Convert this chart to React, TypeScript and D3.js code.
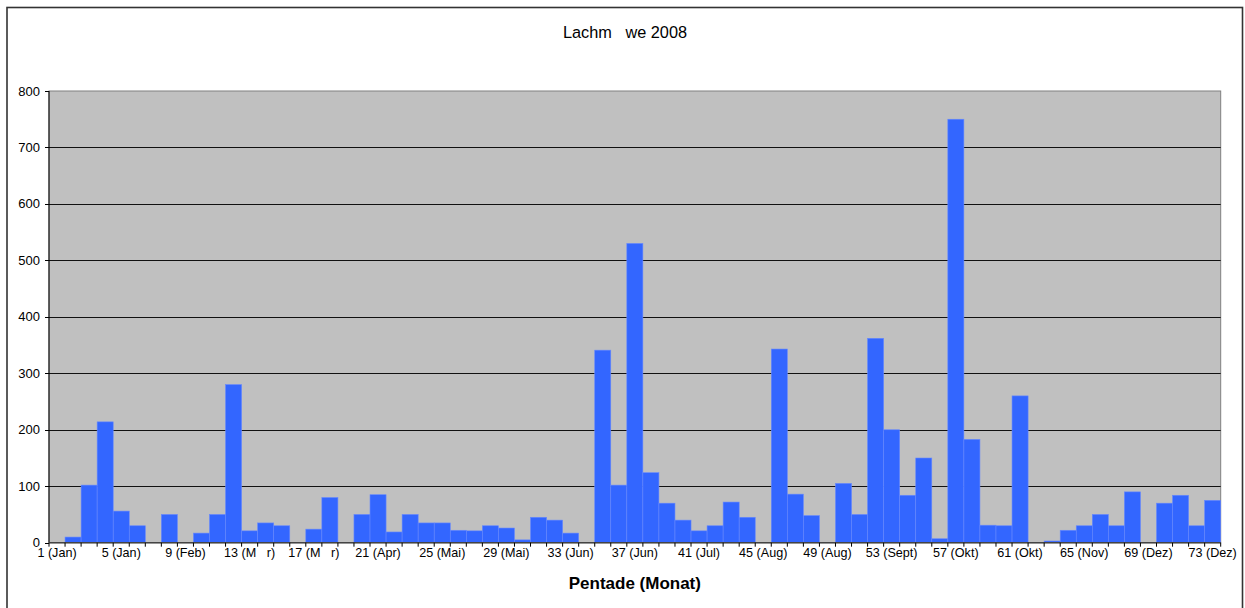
import React from "react";
import * as d3 from "d3";

const pentades: number[] = d3.range(1, 74);
const values: number[] = [
  0, 10, 102, 214, 56, 30, 0, 50, 0, 17,
  50, 280, 21, 35, 30, 0, 24, 80, 0, 50,
  85, 19, 50, 35, 35, 22, 21, 30, 26, 5,
  45, 40, 17, 0, 341, 102, 530, 124, 70, 40,
  21, 30, 72, 45, 0, 343, 86, 48, 0, 105,
  50, 362, 200, 84, 150, 7, 750, 183, 31, 30,
  260, 0, 3, 22, 30, 50, 30, 90, 0, 70,
  84, 30, 75,
];
const tickPentades: number[] = [1, 5, 9, 13, 17, 21, 25, 29, 33, 37, 41, 45, 49, 53, 57, 61, 65, 69, 73];
const tickLabels: string[] = [
  "1 (Jan)", "5 (Jan)", "9 (Feb)", "13 (M   r)", "17 (M   r)", "21 (Apr)", "25 (Mai)",
  "29 (Mai)", "33 (Jun)", "37 (Jun)", "41 (Jul)", "45 (Aug)", "49 (Aug)", "53 (Sept)",
  "57 (Okt)", "61 (Okt)", "65 (Nov)", "69 (Dez)", "73 (Dez)",
];
const yTicks: number[] = [0, 100, 200, 300, 400, 500, 600, 700, 800];
const title = "Lachm   we 2008";
const xTitle = "Pentade (Monat)";

const W = 1245;
const H = 608;
const L = 49;
const R = 1220.7;
const T = 91;
const B = 542.7;
const FONT = "'Liberation Sans', Arial, Helvetica, sans-serif";

export default function App() {
  const x = d3.scaleBand<number>().domain(pentades).range([L, R]).padding(0);
  const y = d3.scaleLinear().domain([0, 800]).range([B, T]);
  const bw = x.bandwidth();
  const boundaries = d3.range(0, pentades.length + 1).map((i) => L + i * bw);

  return (
    <svg
      width={W}
      height={H}
      style={{ position: "absolute", left: 0, top: 0, background: "#fff" }}
      fontFamily={FONT}
    >
      <rect x={7} y={7.5} width={1235.5} height={640} fill="#fff" stroke="#333" strokeWidth={1.6} />
      <text x={625} y={38} textAnchor="middle" fontSize={16.3} fill="#000" style={{ whiteSpace: "pre" }}>
        {title}
      </text>

      <rect x={L} y={T} width={R - L} height={B - T} fill="#C0C0C0" stroke="#808080" strokeWidth={1} />
      {yTicks.slice(1, -1).map((t) => (
        <line key={"g" + t} x1={L} x2={R} y1={Math.round(y(t)) + 0.5} y2={Math.round(y(t)) + 0.5} stroke="#111" strokeWidth={1} />
      ))}

      {pentades.map((p, i) =>
        values[i] > 0 ? (
          <rect
            key={"b" + p}
            x={x(p)!}
            y={y(values[i])}
            width={bw}
            height={B - y(values[i])}
            fill="#3366FF"
            stroke="#6688ff"
            strokeWidth={0.6}
          />
        ) : null
      )}

      {/* y axis */}
      <line x1={L} x2={L} y1={T} y2={B} stroke="#000" strokeWidth={1} />
      {yTicks.map((t) => (
        <g key={"y" + t}>
          <line x1={L - 4} x2={L} y1={Math.round(y(t)) + 0.5} y2={Math.round(y(t)) + 0.5} stroke="#000" />
          <text x={40} y={y(t)} dy="0.35em" textAnchor="end" fontSize={13} fill="#000">
            {t}
          </text>
        </g>
      ))}

      {/* x axis */}
      <line x1={L} x2={R} y1={B} y2={B} stroke="#444" strokeWidth={1.6} />
      {boundaries.map((bx, i) => (
        <line key={"xt" + i} x1={bx} x2={bx} y1={B} y2={B + 4} stroke="#000" strokeWidth={1} />
      ))}
      {tickPentades.map((p, i) => (
        <text
          key={"xl" + p}
          x={x(p)! + bw / 2}
          y={557}
          textAnchor="middle"
          fontSize={12.6}
          fill="#000"
          style={{ whiteSpace: "pre" }}
        >
          {tickLabels[i]}
        </text>
      ))}
      <text x={(L + R) / 2} y={589} textAnchor="middle" fontSize={17} fontWeight="bold" fill="#000">
        {xTitle}
      </text>
    </svg>
  );
}
